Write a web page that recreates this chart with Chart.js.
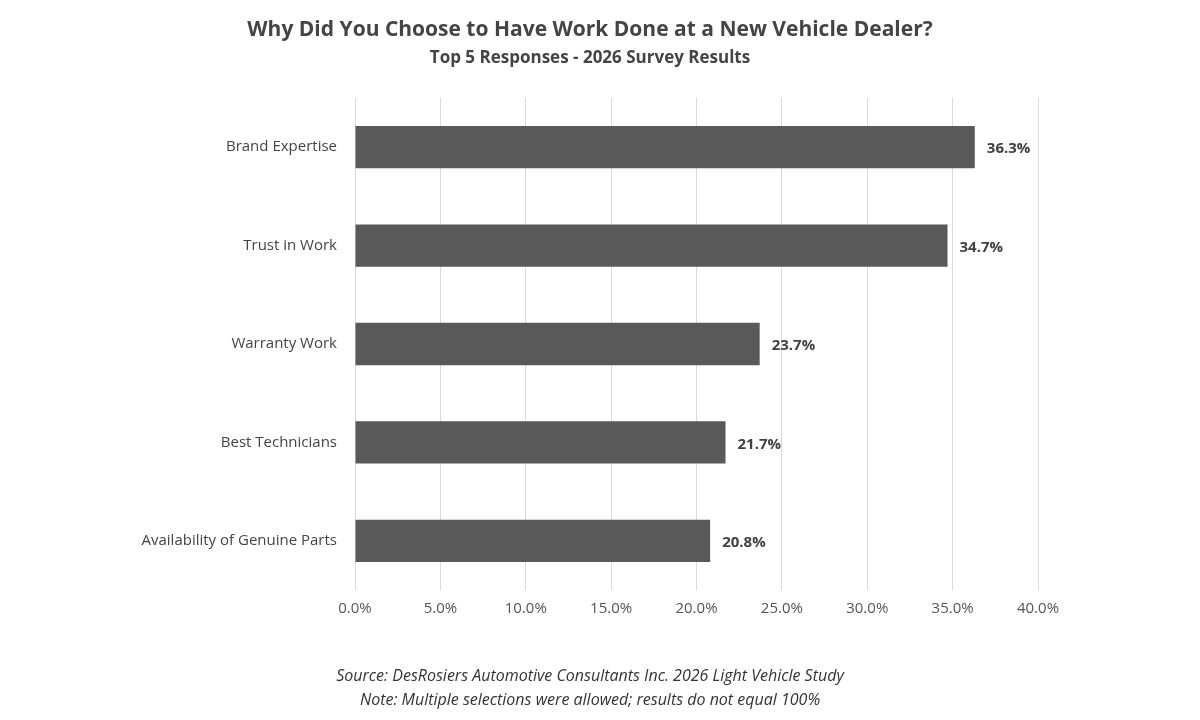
<!DOCTYPE html>
<html>
<head>
<meta charset="utf-8">
<script src="https://cdn.jsdelivr.net/npm/chart.js@4"></script>
<style>
  html, body { margin: 0; padding: 0; background: #fff; }
</style>
</head>
<body>
<canvas id="chart" width="1200" height="720"></canvas>
<script>
const categories = ['Brand Expertise', 'Trust in Work', 'Warranty Work', 'Best Technicians', 'Availability of Genuine Parts'];
const shares = [36.3, 34.7, 23.7, 21.7, 20.8];

const titleText = 'Why Did You Choose to Have Work Done at a New Vehicle Dealer?';
const subtitleText = 'Top 5 Responses - 2026 Survey Results';
const footLines = [
    'Source: DesRosiers Automotive Consultants Inc. 2026 Light Vehicle Study',
    'Note: Multiple selections were allowed; results do not equal 100%'
];

const FONT = '"Open Sans", "Noto Sans", sans-serif';

// titles, footer and value labels drawn straight on the canvas
const textPlugin = {
    id: 'textPlugin',
    afterDraw(chart) {
        const ctx = chart.ctx;
        ctx.save();
        ctx.textAlign = 'center';
        ctx.textBaseline = 'middle';
        ctx.fillStyle = '#444';
        ctx.font = 'bold 21px ' + FONT;
        ctx.fillText(titleText, 590, 30);
        ctx.font = 'bold 17px ' + FONT;
        ctx.fillText(subtitleText, 590, 58);

        ctx.fillStyle = '#333';
        ctx.font = 'italic 16px ' + FONT;
        ctx.fillText(footLines[0], 590, 676);
        ctx.fillText(footLines[1], 590, 700);

        const meta = chart.getDatasetMeta(0);
        ctx.textAlign = 'left';
        ctx.font = 'bold 15px ' + FONT;
        ctx.fillStyle = '#404040';
        meta.data.forEach((bar, i) => {
            ctx.fillText(shares[i].toFixed(1) + '%', bar.x + 12, bar.y + 2);
        });
        ctx.restore();
    }
};

new Chart(document.getElementById('chart'), {
    type: 'bar',
    data: {
        labels: categories,
        datasets: [{
            data: shares,
            backgroundColor: '#595959',
            barPercentage: 0.43,
            categoryPercentage: 1
        }]
    },
    options: {
        indexAxis: 'y',
        responsive: false,
        animation: false,
        devicePixelRatio: 1,
        layout: { padding: { top: 98, right: 162, bottom: 92, left: 0 } },
        plugins: {
            legend: { display: false },
            tooltip: { enabled: false }
        },
        scales: {
            x: {
                min: 0,
                max: 40,
                ticks: {
                    stepSize: 5,
                    color: '#555',
                    font: { family: FONT, size: 15 },
                    padding: 10,
                    callback: v => v.toFixed(1) + '%'
                },
                grid: { color: '#d9d9d9', drawTicks: false },
                border: { display: false }
            },
            y: {
                afterFit(scale) { scale.width = 355; },
                ticks: {
                    color: '#444',
                    font: { family: FONT, size: 15 },
                    padding: 18
                },
                grid: { display: false, drawTicks: false },
                border: { display: false }
            }
        }
    },
    plugins: [textPlugin]
});
</script>
</body>
</html>
